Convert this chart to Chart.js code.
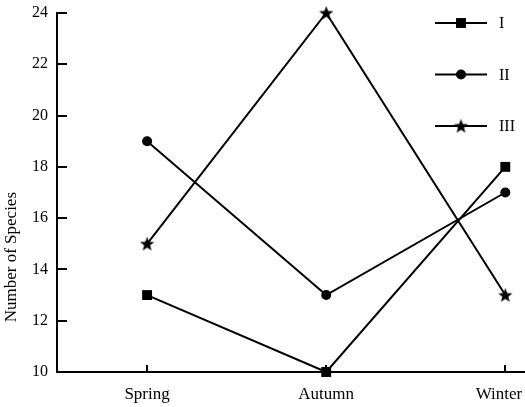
<!DOCTYPE html>
<html>
<head>
<meta charset="utf-8">
<script src="https://cdn.jsdelivr.net/npm/chart.js@4/dist/chart.umd.min.js"></script>
<style>
  html, body { margin: 0; padding: 0; background: #fff; }
  #wrap { width: 525px; height: 407px; position: relative; }
</style>
</head>
<body>
<div id="wrap"><canvas id="speciesChart"></canvas></div>
<script>
// 数据
const seasons = ['Spring', 'Autumn', 'Winter'];
const seriesNames = ['I', 'II', 'III'];
const seriesI = [13, 10, 18];
const seriesII = [19, 13, 17];
const seriesIII = [15, 24, 13];
const yTicks = [10, 12, 14, 16, 18, 20, 22, 24];

const serif = "'Liberation Serif', 'DejaVu Serif', serif";

// 五角星点样式
function makeStar(r) {
    const c = document.createElement('canvas');
    const s = Math.ceil(r * 2 + 2);
    c.width = s; c.height = s;
    const g = c.getContext('2d');
    g.fillStyle = '#000';
    g.beginPath();
    for (let i = 0; i < 10; i++) {
        const rad = i % 2 === 0 ? r : r * 0.42;
        const a = -Math.PI / 2 + i * Math.PI / 5;
        const px = s / 2 + rad * Math.cos(a);
        const py = s / 2 + 0.6 + rad * Math.sin(a);
        if (i === 0) g.moveTo(px, py); else g.lineTo(px, py);
    }
    g.closePath();
    g.fill();
    return c;
}
const starImg = makeStar(7.5);

function toPoints(arr) {
    return arr.map((v, i) => ({ x: i, y: v }));
}

// 内向刻度、图例、纵轴标题
const decorPlugin = {
    id: 'decor',
    afterDraw(chart) {
        const ctx = chart.ctx;
        const area = chart.chartArea;
        const xs = chart.scales.x;
        const ys = chart.scales.y;
        ctx.save();
        ctx.strokeStyle = '#000';
        ctx.lineWidth = 2;
        // y 轴刻度（向内）
        yTicks.forEach(v => {
            const py = Math.round(ys.getPixelForValue(v));
            ctx.beginPath();
            ctx.moveTo(area.left, py);
            ctx.lineTo(area.left + 10, py);
            ctx.stroke();
        });
        // x 轴刻度（向上）
        seasons.forEach((s, i) => {
            const px = Math.round(xs.getPixelForValue(i));
            ctx.beginPath();
            ctx.moveTo(px, area.bottom);
            ctx.lineTo(px, area.bottom - 7);
            ctx.stroke();
        });
        // 纵轴标题
        ctx.fillStyle = '#000';
        ctx.font = '17px ' + serif;
        ctx.textAlign = 'center';
        ctx.textBaseline = 'middle';
        ctx.translate(12, area.top + (area.bottom - area.top) * 0.68);
        ctx.rotate(-Math.PI / 2);
        ctx.fillText('Number of Species', 0, 0);
        ctx.restore();

        // 图例
        ctx.save();
        chart.data.datasets.forEach((ds, i) => {
            const y = area.top + 10 + i * 51.5;
            const x0 = area.left + 378, x1 = area.left + 430;
            ctx.strokeStyle = '#000';
            ctx.lineWidth = 2;
            ctx.beginPath();
            ctx.moveTo(x0, y);
            ctx.lineTo(x1, y);
            ctx.stroke();
            Chart.helpers.drawPoint(ctx, {
                pointStyle: ds.pointStyle,
                radius: ds.pointRadius,
                borderWidth: 0,
                rotation: 0
            }, (x0 + x1) / 2, y);
            ctx.fillStyle = '#000';
            ctx.font = '16px ' + serif;
            ctx.textAlign = 'left';
            ctx.textBaseline = 'middle';
            ctx.fillText(ds.label, x1 + 12, y + 1);
        });
        ctx.restore();
    }
};

const lineStyle = {
    borderColor: '#000',
    backgroundColor: '#000',
    borderWidth: 2,
    pointBorderWidth: 0,
    pointBackgroundColor: '#000',
    tension: 0,
    clip: false
};

new Chart(document.getElementById('speciesChart'), {
    type: 'line',
    data: {
        datasets: [
            Object.assign({ label: seriesNames[0], data: toPoints(seriesI), pointStyle: 'rect', pointRadius: 7 }, lineStyle),
            Object.assign({ label: seriesNames[1], data: toPoints(seriesII), pointStyle: 'circle', pointRadius: 5 }, lineStyle),
            Object.assign({ label: seriesNames[2], data: toPoints(seriesIII), pointStyle: starImg, pointRadius: 7 }, lineStyle)
        ]
    },
    options: {
        responsive: true,
        maintainAspectRatio: false,
        animation: false,
        layout: { autoPadding: false, padding: { top: 13, right: 0, left: 0, bottom: 0 } },
        plugins: {
            legend: { display: false },
            tooltip: { enabled: false }
        },
        scales: {
            x: {
                type: 'linear',
                min: -0.503,
                max: 2.11,
                afterBuildTicks(scale) {
                    scale.ticks = seasons.map((s, i) => ({ value: i }));
                },
                afterFit(scale) {
                    scale.height = 35;
                    scale.paddingLeft = 0;
                    scale.paddingRight = 0;
                },
                grid: { display: true, drawOnChartArea: false, drawTicks: false },
                border: { display: true, color: '#000', width: 2 },
                ticks: {
                    color: '#000',
                    padding: 12,
                    maxRotation: 0,
                    autoSkip: false,
                    font: { family: serif, size: 17 },
                    // 最后一个标签稍微左移，避免被裁切
                    callback: (v) => v === seasons.length - 1 ? seasons[v] + '\u00a0\u00a0\u00a0' : (seasons[v] ?? '')
                }
            },
            y: {
                min: 10,
                max: 24,
                afterBuildTicks(scale) {
                    scale.ticks = yTicks.map(v => ({ value: v }));
                },
                afterFit(scale) {
                    scale.width = 57;
                    scale.paddingTop = 0;
                    scale.paddingBottom = 0;
                },
                grid: { display: true, drawOnChartArea: false, drawTicks: false },
                border: { display: true, color: '#000', width: 2 },
                ticks: {
                    color: '#000',
                    padding: 9,
                    font: { family: serif, size: 16 }
                }
            }
        }
    },
    plugins: [decorPlugin]
});
</script>
</body>
</html>
